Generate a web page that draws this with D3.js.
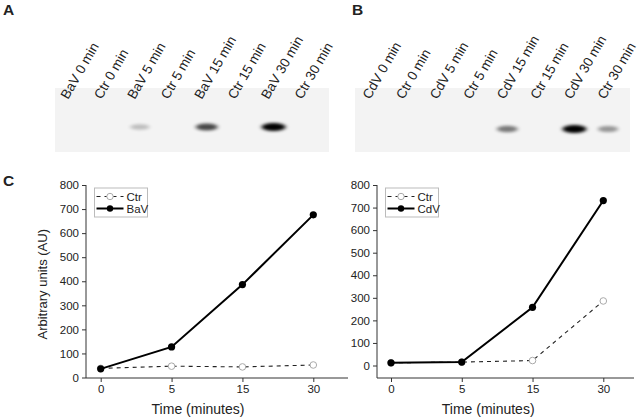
<!DOCTYPE html>
<html>
<head>
<meta charset="utf-8">
<script src="https://cdn.jsdelivr.net/npm/d3@7"></script>
<style>
  body { margin: 0; background: #fff; }
  svg text { font-family: Arial, "Liberation Sans", sans-serif; fill: #222; }
</style>
</head>
<body>
<svg width="642" height="420"></svg>
<script>
// ---- data ----
const times = ["0", "5", "15", "30"];
const yTicks = [0, 100, 200, 300, 400, 500, 600, 700, 800];

const ctrA = [38, 47, 44, 52];
const bavA = [36, 127, 386, 676];
const ctrB = [12, 15, 22, 286];
const cdvB = [12, 15, 258, 731];

const lanesA = ["BaV 0 min", "Ctr 0 min", "BaV 5 min", "Ctr 5 min", "BaV 15 min", "Ctr 15 min", "BaV 30 min", "Ctr 30 min"];
const bandsA = [0, 0, 0.22, 0, 0.7, 0, 1, 0];
const lanesB = ["CdV 0 min", "Ctr 0 min", "CdV 5 min", "Ctr 5 min", "CdV 15 min", "Ctr 15 min", "CdV 30 min", "Ctr 30 min"];
const bandsB = [0, 0, 0, 0, 0.5, 0, 1, 0.38];

const svg = d3.select("svg");
const defs = svg.append("defs");
defs.append("filter").attr("id", "blur")
    .attr("x", "-50%").attr("y", "-100%").attr("width", "200%").attr("height", "300%")
    .append("feGaussianBlur").attr("stdDeviation", "2.2 1.6");

// panel letters
const letters = [["A", 3, 15], ["B", 352, 15], ["C", 3, 186]];
svg.selectAll("text.letter").data(letters).enter().append("text")
    .attr("class", "letter")
    .attr("x", d => d[1]).attr("y", d => d[2])
    .attr("font-size", 15.5).attr("font-weight", "bold")
    .text(d => d[0]);

// ---- gel panels ----
function drawGel(lanes, bands, o) {
    const g = svg.append("g");
    g.append("rect")
        .attr("x", o.x0).attr("y", 88)
        .attr("width", o.x1 - o.x0).attr("height", 64)
        .attr("fill", "#f3f3f3");

    const lx = d3.scalePoint().domain(lanes).range([o.l0, o.l1]);

    g.selectAll("ellipse").data(lanes).enter().append("ellipse")
        .attr("cx", d => lx(d) + o.bandDx)
        .attr("cy", o.bandY)
        .attr("rx", (d, i) => 9 + 3 * bands[i])
        .attr("ry", (d, i) => 2.5 + 1.5 * bands[i])
        .attr("fill", "#000")
        .attr("opacity", (d, i) => bands[i])
        .attr("filter", "url(#blur)");

    g.selectAll("text").data(lanes).enter().append("text")
        .attr("transform", d => `translate(${lx(d)},100) rotate(-60)`)
        .attr("font-size", 13.5)
        .text(d => d);
}
drawGel(lanesA, bandsA, { x0: 55, x1: 329, l0: 68, l1: 302, bandDx: 5, bandY: 127 });
drawGel(lanesB, bandsB, { x0: 355, x1: 630, l0: 370, l1: 605, bandDx: 3, bandY: 129 });

// ---- line charts ----
function drawChart(o) {
    const g = svg.append("g");
    const x = d3.scalePoint().domain(times).range([o.p0, o.p1]);
    const y = d3.scaleLinear().domain([0, 800]).range([o.y0, 185]);

    // axes lines
    g.append("line").attr("x1", o.ax).attr("x2", o.ax)
        .attr("y1", y(800)).attr("y2", o.axY).attr("stroke", "#333");
    g.append("line").attr("x1", o.ax).attr("x2", o.axEnd)
        .attr("y1", o.axY).attr("y2", o.axY).attr("stroke", "#333");

    const ya = g.append("g").attr("transform", `translate(${o.ax},0)`)
        .call(d3.axisLeft(y).tickValues(yTicks).tickSize(4).tickPadding(3));
    ya.select(".domain").remove();
    ya.selectAll("line").attr("stroke", "#333");
    ya.selectAll("text").attr("font-size", 11.5).attr("fill", "#222")
        .attr("font-family", "Arial, 'Liberation Sans', sans-serif");

    const xa = g.append("g").attr("transform", `translate(0,${o.axY})`)
        .call(d3.axisBottom(x).tickSize(4).tickPadding(3));
    xa.select(".domain").remove();
    xa.selectAll("line").attr("stroke", "#333");
    xa.selectAll("text").attr("font-size", 11.5).attr("fill", "#222")
        .attr("font-family", "Arial, 'Liberation Sans', sans-serif");

    g.append("text")
        .attr("x", (o.p0 + o.p1) / 2 - 9).attr("y", 414)
        .attr("text-anchor", "middle").attr("font-size", 14)
        .text("Time (minutes)");

    if (o.yLabel) {
        g.append("text")
            .attr("transform", `translate(47,${y(400) + 3}) rotate(-90)`)
            .attr("text-anchor", "middle").attr("font-size", 13)
            .text(o.yLabel);
    }

    const line = d3.line().x((d, i) => x(times[i])).y(d => y(d));

    // control (dashed, open markers)
    g.append("path").attr("d", line(o.ctr))
        .attr("fill", "none").attr("stroke", "#222")
        .attr("stroke-width", 1.1).attr("stroke-dasharray", "4,4");
    g.selectAll("circle.ctr").data(o.ctr).enter().append("circle")
        .attr("class", "ctr")
        .attr("cx", (d, i) => x(times[i])).attr("cy", d => y(d))
        .attr("r", 3.3).attr("fill", "#fff").attr("stroke", "#aaa").attr("stroke-width", 1);

    // treatment (solid, filled markers)
    g.append("path").attr("d", line(o.trt))
        .attr("fill", "none").attr("stroke", "#000").attr("stroke-width", 2);
    g.selectAll("circle.trt").data(o.trt).enter().append("circle")
        .attr("class", "trt")
        .attr("cx", (d, i) => x(times[i])).attr("cy", d => y(d))
        .attr("r", 3.6).attr("fill", "#000");

    // legend
    const lg = g.append("g").attr("transform", `translate(${o.lgX},188)`);
    lg.append("rect").attr("width", 53).attr("height", 29)
        .attr("fill", "#fff").attr("stroke", "#bbb");
    const rows = [
        { name: "Ctr", dy: 8.5, dash: "4,4", w: 1.1, stroke: "#222", fill: "#fff", ms: "#aaa" },
        { name: o.trtName, dy: 20.5, dash: null, w: 2, stroke: "#000", fill: "#000", ms: "none" }
    ];
    const r = lg.selectAll("g").data(rows).enter().append("g")
        .attr("transform", d => `translate(0,${d.dy})`);
    r.append("line").attr("x1", 2).attr("x2", 29)
        .attr("stroke", d => d.stroke).attr("stroke-width", d => d.w)
        .attr("stroke-dasharray", d => d.dash);
    r.append("circle").attr("cx", 15.5).attr("r", 3.2)
        .attr("fill", d => d.fill).attr("stroke", d => d.ms);
    r.append("text").attr("x", 32).attr("y", 4).attr("font-size", 11.5)
        .text(d => d.name);
}

drawChart({ ax: 86, axY: 378, axEnd: 348, p0: 100.7, p1: 313.3, y0: 377.5,
            ctr: ctrA, trt: bavA, trtName: "BaV", lgX: 94.5, yLabel: "Arbitrary units (AU)" });
drawChart({ ax: 377, axY: 378, axEnd: 634, p0: 391, p1: 603.3, y0: 365.5,
            ctr: ctrB, trt: cdvB, trtName: "CdV", lgX: 385.5 });
</script>
</body>
</html>
